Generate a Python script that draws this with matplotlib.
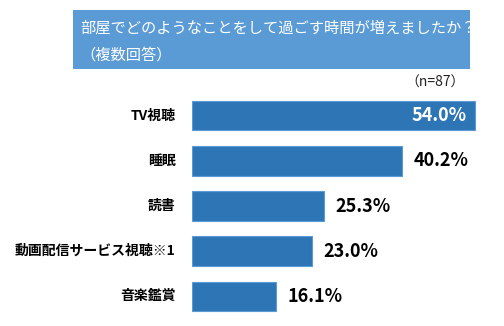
import matplotlib
matplotlib.use("Agg")
import matplotlib.pyplot as plt
from matplotlib.patches import Rectangle

plt.rcParams['font.family'] = ['Noto Sans CJK JP', 'DejaVu Sans']

categories = ["TV視聴", "睡眠", "読書", "動画配信サービス視聴※1", "音楽鑑賞"]
values = [54.0, 40.2, 25.3, 23.0, 16.1]
title_lines = ["部屋でどのようなことをして過ごす時間が増えましたか？", "（複数回答）"]
n_label = "（n=87）"

W, H = 504, 326
fig = plt.figure(figsize=(W / 100, H / 100), dpi=100)

# title box across the top
fig.patches.append(Rectangle((73 / W, 1 - 69 / H), (470 - 73) / W, (69 - 10) / H,
                             transform=fig.transFigure, facecolor="#5B9BD5",
                             edgecolor="none", zorder=0))
fig.text(80 / W, 1 - 28 / H, title_lines[0], color="white", fontsize=11, va="center", ha="left")
fig.text(80 / W, 1 - 55 / H, title_lines[1], color="white", fontsize=11, va="center", ha="left")
fig.text(465 / W, 1 - 83 / H, n_label, color="#222222", fontsize=10, va="center", ha="right")

# bar area: x from 192px, 45px per row
ax = fig.add_axes([192 / W, 1 - 318.75 / H, (W - 192) / W, (318.75 - 93.25) / H])
ax.set_xlim(0, (W - 192) / 5.235)
ax.set_ylim(4.5, -0.5)
ypos = list(range(len(categories)))
ax.barh(ypos, values, height=0.65, color="#2E75B6", edgecolor="#5B9BD5", linewidth=0.8)

for y, v in zip(ypos, values):
    if v == max(values):
        ax.text(v - 1.6, y, f"{v:.1f}%", color="white", fontsize=13, fontweight="bold",
                va="center", ha="right")
    else:
        ax.text(v + 2.1, y, f"{v:.1f}%", color="black", fontsize=13, fontweight="bold",
                va="center", ha="left")
    ax.text(-3.1, y, categories[ypos.index(y)], color="black", fontsize=10, fontweight="bold",
            va="center", ha="right")

ax.axis("off")
fig.savefig("out.png", dpi=100)
